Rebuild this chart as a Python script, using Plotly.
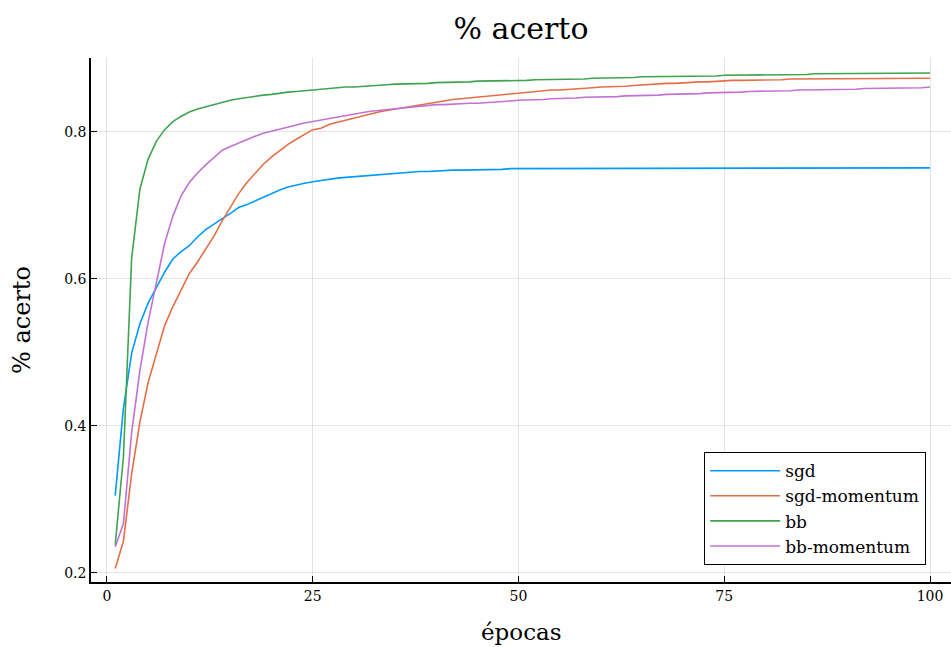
import plotly.graph_objects as go

epocas = list(range(1, 101))

sgd = [
    0.305, 0.424, 0.499, 0.539, 0.567, 0.588, 0.609, 0.627, 0.637, 0.645,
    0.657, 0.667, 0.675, 0.682, 0.689, 0.697, 0.701, 0.706, 0.712, 0.717,
    0.721, 0.725, 0.728, 0.730, 0.732, 0.734, 0.736, 0.737, 0.738, 0.739,
    0.740, 0.741, 0.742, 0.743, 0.744, 0.745, 0.745, 0.746, 0.746, 0.747,
    0.747, 0.748, 0.748, 0.748, 0.749, 0.749, 0.749, 0.749, 0.750, 0.750,
    0.750, 0.750, 0.750, 0.750, 0.750, 0.750, 0.7505, 0.7505, 0.7505, 0.7505,
    0.7505, 0.7505, 0.7505, 0.7505, 0.7508, 0.7508, 0.7508, 0.7508, 0.7508, 0.7508,
    0.751, 0.751, 0.751, 0.751, 0.751, 0.751, 0.751, 0.751, 0.751, 0.751,
    0.751, 0.751, 0.751, 0.751, 0.751, 0.751, 0.751, 0.751, 0.751, 0.751,
    0.751, 0.751, 0.751, 0.751, 0.751, 0.751, 0.751, 0.751, 0.751, 0.751,
]

sgd_momentum = [
    0.206, 0.243, 0.335, 0.405, 0.459, 0.499, 0.536, 0.562, 0.584, 0.607,
    0.623, 0.641, 0.658, 0.679, 0.698, 0.716, 0.731, 0.744, 0.756, 0.766,
    0.775, 0.783, 0.790, 0.796, 0.803, 0.805, 0.810, 0.813, 0.816, 0.819,
    0.822, 0.824, 0.827, 0.829, 0.831, 0.833, 0.835, 0.837, 0.839, 0.841,
    0.842, 0.844, 0.845, 0.846, 0.847, 0.848, 0.850, 0.851, 0.852, 0.853,
    0.854, 0.855, 0.856, 0.857, 0.857, 0.858, 0.859, 0.859, 0.860, 0.861,
    0.861, 0.862, 0.862, 0.863, 0.864, 0.864, 0.865, 0.866, 0.866, 0.867,
    0.867, 0.868, 0.868, 0.869, 0.869, 0.870, 0.870, 0.870, 0.871, 0.871,
    0.871, 0.871, 0.872, 0.872, 0.872, 0.872, 0.872, 0.873, 0.873, 0.873,
    0.873, 0.873, 0.873, 0.873, 0.873, 0.873, 0.873, 0.873, 0.873, 0.873,
]

bb = [
    0.238, 0.358, 0.628, 0.722, 0.763, 0.787, 0.803, 0.814, 0.821, 0.827,
    0.831, 0.834, 0.838, 0.840, 0.843, 0.845, 0.847, 0.849, 0.850, 0.851,
    0.853, 0.854, 0.855, 0.856, 0.857, 0.858, 0.858, 0.860, 0.861, 0.861,
    0.862, 0.862, 0.863, 0.864, 0.865, 0.865, 0.865, 0.866, 0.866, 0.867,
    0.867, 0.868, 0.868, 0.868, 0.869, 0.869, 0.869, 0.869, 0.870, 0.870,
    0.870, 0.871, 0.871, 0.871, 0.872, 0.872, 0.872, 0.872, 0.873, 0.873,
    0.873, 0.874, 0.874, 0.874, 0.875, 0.875, 0.875, 0.875, 0.876, 0.876,
    0.876, 0.876, 0.876, 0.876, 0.877, 0.877, 0.877, 0.877, 0.877, 0.878,
    0.878, 0.878, 0.878, 0.878, 0.878, 0.879, 0.879, 0.879, 0.879, 0.879,
    0.879, 0.879, 0.879, 0.880, 0.880, 0.880, 0.880, 0.880, 0.880, 0.880,
]

bb_momentum = [
    0.235, 0.267, 0.391, 0.475, 0.541, 0.593, 0.648, 0.685, 0.713, 0.731,
    0.744, 0.755, 0.765, 0.775, 0.780, 0.785, 0.790, 0.794, 0.798, 0.801,
    0.804, 0.807, 0.809, 0.812, 0.814, 0.816, 0.818, 0.820, 0.822, 0.825,
    0.827, 0.828, 0.829, 0.830, 0.832, 0.833, 0.834, 0.835, 0.836, 0.837,
    0.837, 0.838, 0.838, 0.839, 0.839, 0.840, 0.841, 0.841, 0.842, 0.843,
    0.843, 0.844, 0.844, 0.845, 0.845, 0.846, 0.846, 0.847, 0.847, 0.848,
    0.848, 0.848, 0.849, 0.849, 0.850, 0.850, 0.850, 0.851, 0.851, 0.851,
    0.852, 0.852, 0.853, 0.853, 0.853, 0.854, 0.854, 0.855, 0.855, 0.855,
    0.856, 0.856, 0.856, 0.857, 0.857, 0.857, 0.857, 0.858, 0.858, 0.858,
    0.858, 0.859, 0.859, 0.859, 0.859, 0.859, 0.860, 0.860, 0.860, 0.861,
]

series_names = ["sgd", "sgd-momentum", "bb", "bb-momentum"]
series_values = [sgd, sgd_momentum, bb, bb_momentum]
colors = ["#009AFA", "#E36F47", "#3EA44E", "#C371D2"]

x_ticks = [0, 25, 50, 75, 100]
y_ticks = [0.2, 0.4, 0.6, 0.8]

FONT = "DejaVu Serif"

fig = go.Figure()
for name, vals, col in zip(series_names, series_values, colors):
    fig.add_trace(go.Scatter(x=epocas, y=vals, mode="lines", name=name,
                             line=dict(color=col, width=1.6)))

axis_common = dict(
    showline=True, linecolor="black", linewidth=1.5, mirror=False,
    showgrid=True, gridcolor="rgba(0,0,0,0.10)", gridwidth=1,
    zeroline=False, ticks="inside", ticklen=6, tickwidth=1.2, tickcolor="black",
    tickfont=dict(family=FONT, size=14, color="black"),
    automargin=False,
)

fig.update_layout(
    width=951, height=647,
    margin=dict(l=91, r=0, t=58, b=65),
    paper_bgcolor="white", plot_bgcolor="white",
    title=dict(text="% acerto", xref="paper", x=0.5, xanchor="center",
               y=1 - 28 / 647, yanchor="middle",
               font=dict(family=FONT, size=30, color="black")),
    xaxis=dict(range=[-1.94, 102.55], tickvals=x_ticks, ticktext=[str(t) for t in x_ticks],
               **axis_common),
    yaxis=dict(range=[0.1875, 0.9005], tickvals=y_ticks, ticktext=[f"{t:.1f}" for t in y_ticks],
               **axis_common),
    legend=dict(x=0.9709, xanchor="right", y=0.0325, yanchor="bottom",
                bgcolor="white", bordercolor="black", borderwidth=1.2,
                font=dict(family=FONT, size=17, color="black"),
                tracegroupgap=0, itemwidth=70),
    showlegend=True,
    annotations=[
        dict(text="épocas", xref="paper", yref="paper", x=0.5, y=(582 - 632) / 524,
             xanchor="center", yanchor="middle", showarrow=False,
             font=dict(family=FONT, size=23, color="black")),
        dict(text="% acerto", xref="paper", yref="paper", x=(22 - 91) / 860, y=0.5,
             xanchor="center", yanchor="middle", showarrow=False, textangle=-90,
             font=dict(family=FONT, size=24, color="black")),
    ],
)

fig.write_html("out.html", config={"displayModeBar": False},
               post_script="document.body.style.margin='0';document.body.style.overflow='hidden';")
